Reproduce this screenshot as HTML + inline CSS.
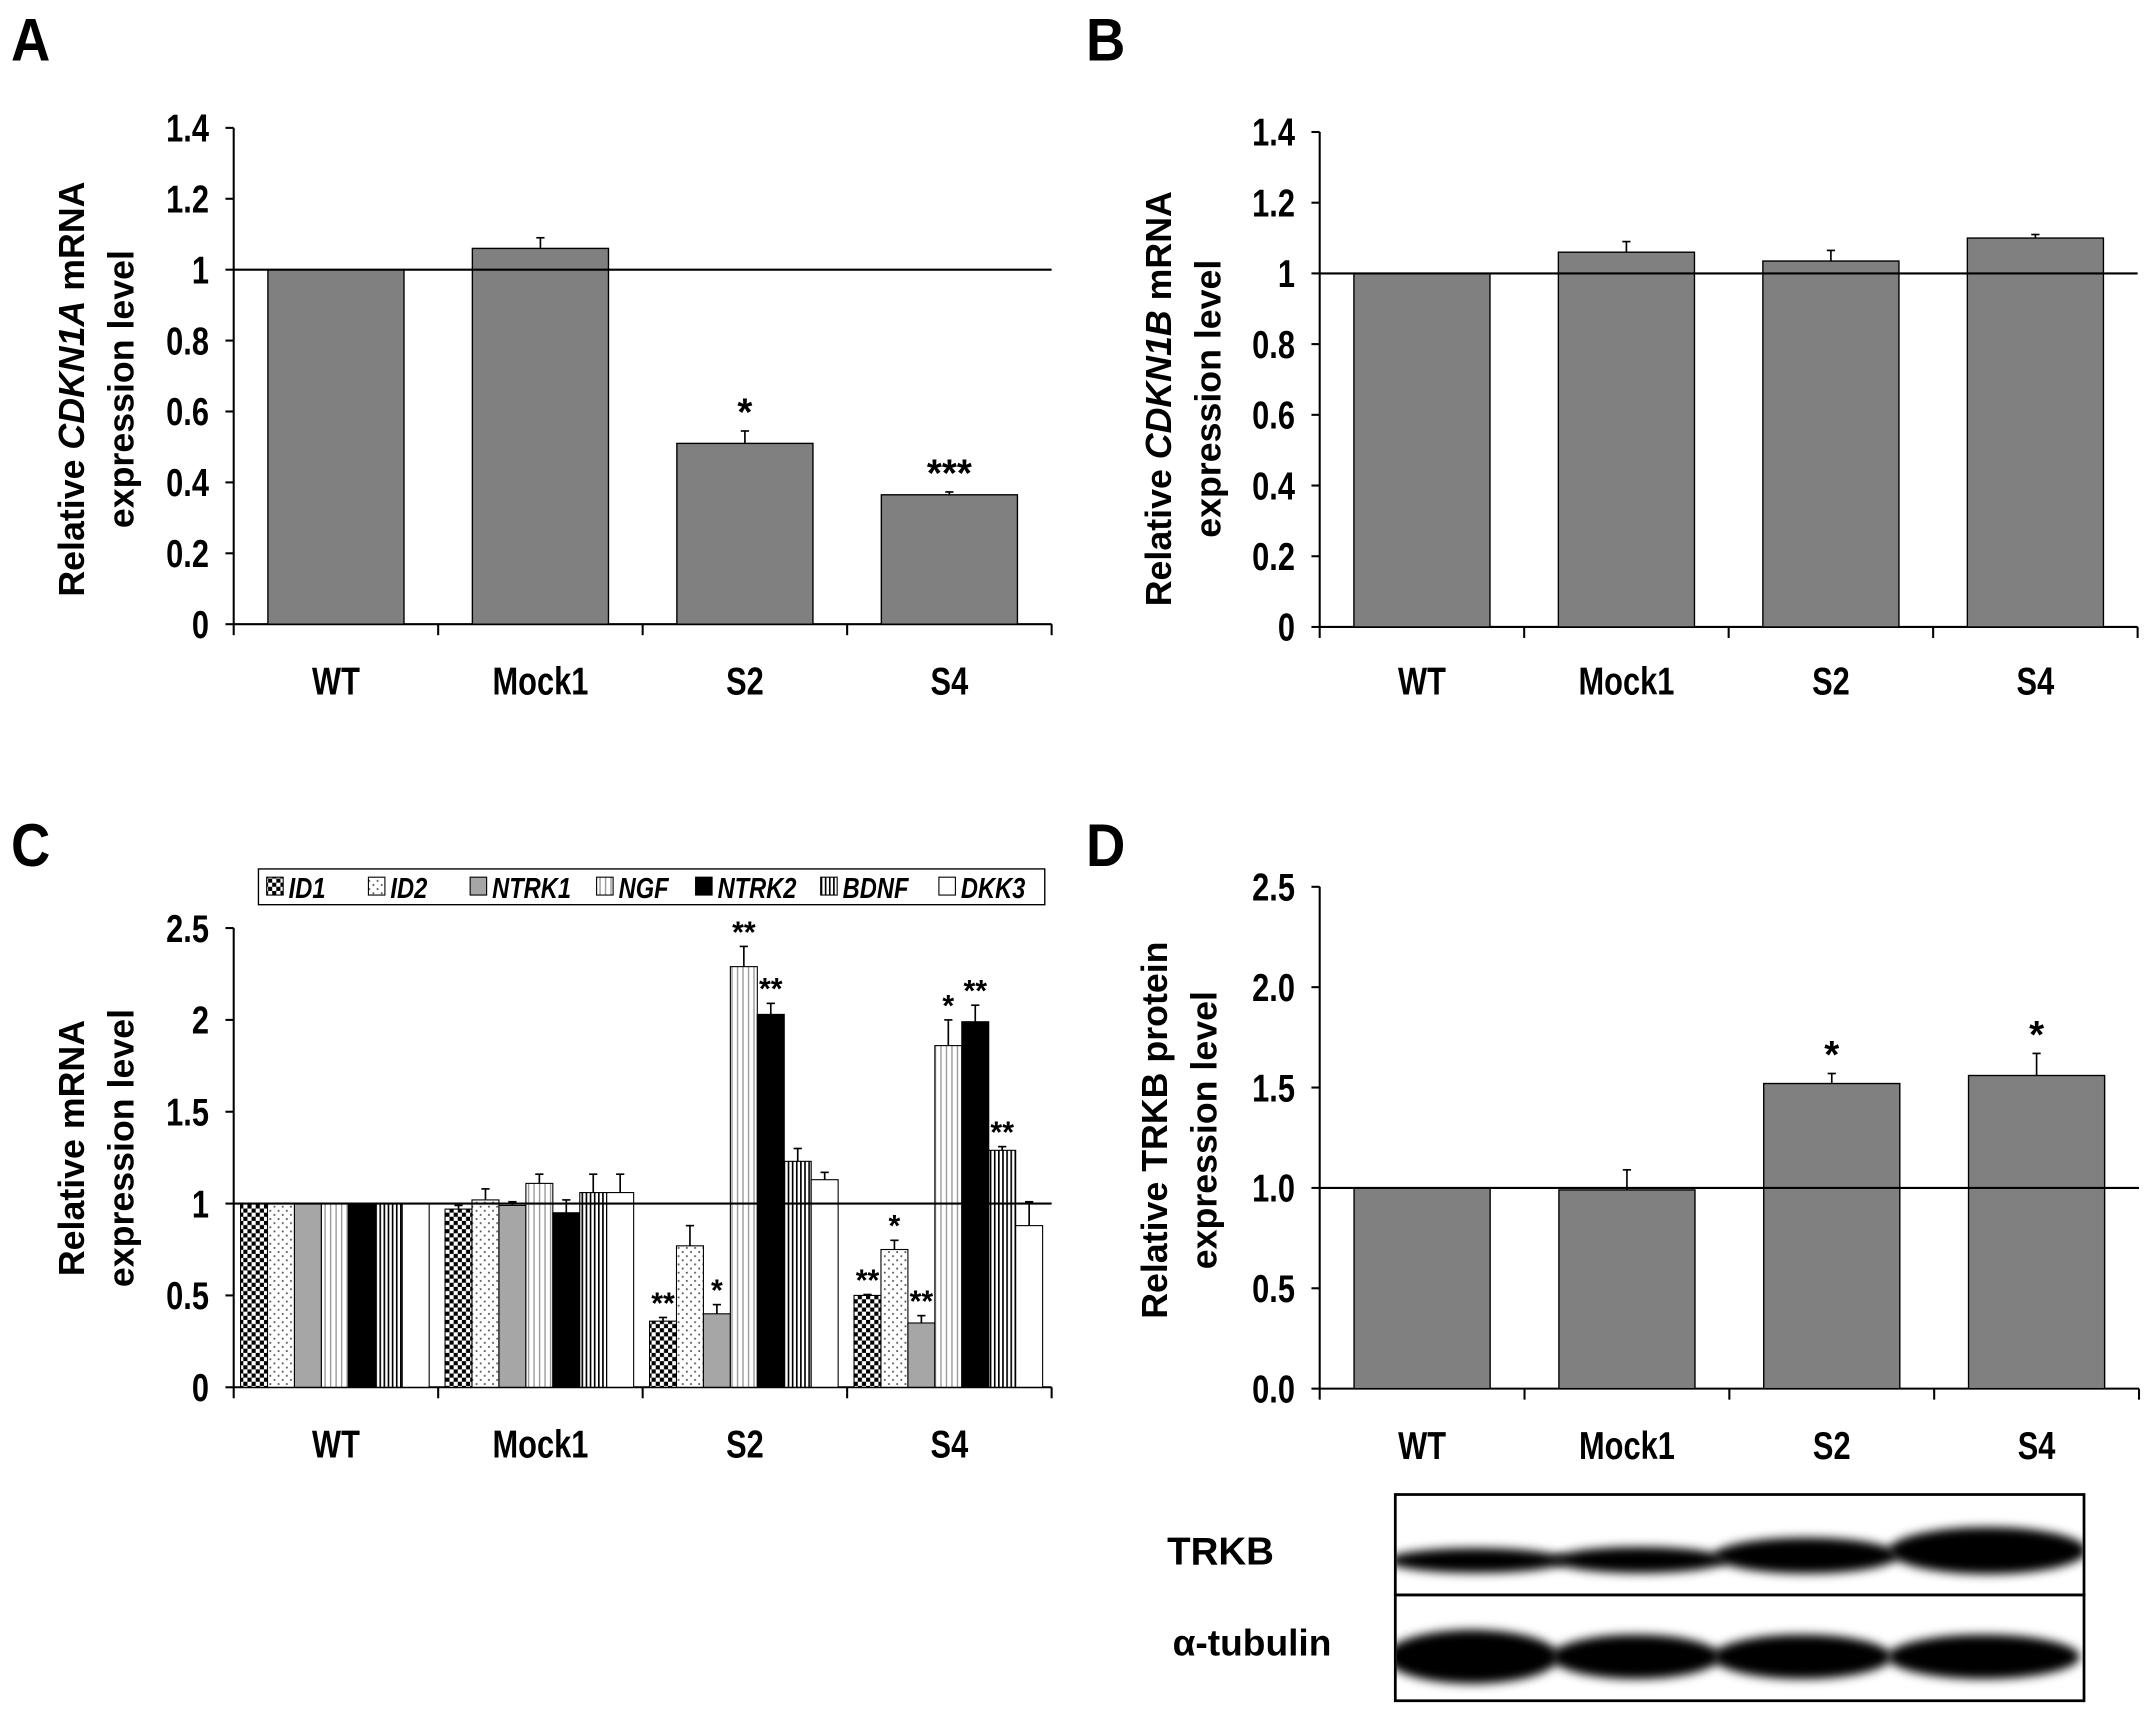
<!DOCTYPE html>
<html><head><meta charset="utf-8">
<style>
html,body{margin:0;padding:0;background:#fff;}
svg{display:block;}
text{font-family:"Liberation Sans",Arial,sans-serif;font-weight:bold;fill:#000;}
</style></head>
<body>
<svg id="fig" width="2150" height="1709" viewBox="0 0 1564 1243" preserveAspectRatio="none" xmlns="http://www.w3.org/2000/svg">
<defs>
<pattern id="p-checker" width="6" height="6" patternUnits="userSpaceOnUse"><rect width="6" height="6" fill="#fff"/><rect width="3" height="3" fill="#000"/><rect x="3" y="3" width="3" height="3" fill="#000"/></pattern>
<pattern id="p-dots" width="6" height="6" patternUnits="userSpaceOnUse"><rect width="6" height="6" fill="#fff"/><rect x="1" y="1" width="1.3" height="1.3" fill="#555"/><rect x="4" y="4" width="1.3" height="1.3" fill="#555"/></pattern>
<pattern id="p-vlight" width="4" height="4" patternUnits="userSpaceOnUse"><rect width="4" height="4" fill="#fff"/><rect x="0" width="1" height="4" fill="#999"/></pattern>
<pattern id="p-vdense" width="3" height="3" patternUnits="userSpaceOnUse"><rect width="3" height="3" fill="#fff"/><rect x="0" width="1.2" height="3" fill="#000"/></pattern>
<filter id="blur" x="-20%" y="-60%" width="140%" height="220%"><feGaussianBlur stdDeviation="3.5"/></filter>
<clipPath id="blot-top"><rect x="1016" y="1088" width="499" height="71"/></clipPath>
<clipPath id="blot-bot"><rect x="1016" y="1161" width="499" height="75"/></clipPath>
</defs>
</svg>
<script>
const categories = ["WT","Mock1","S2","S4"];
// Panel A
const aValues = [1.0, 1.06, 0.51, 0.365];
const aErrors = [0, 0.03, 0.035, 0.008];
const aStars = ["", "", "*", "***"];
const aTicks = ["0","0.2","0.4","0.6","0.8","1","1.2","1.4"];
// Panel B
const bValues = [1.0, 1.06, 1.035, 1.10];
const bErrors = [0, 0.03, 0.03, 0.01];
const bStars = ["", "", "", ""];
const bTicks = ["0","0.2","0.4","0.6","0.8","1","1.2","1.4"];
// Panel C
const cGenes = ["ID1","ID2","NTRK1","NGF","NTRK2","BDNF","DKK3"];
const cID1 = [1.0, 0.97, 0.36, 0.50];
const cID2 = [1.0, 1.02, 0.77, 0.75];
const cNTRK1 = [1.0, 0.99, 0.40, 0.35];
const cNGF = [1.0, 1.11, 2.29, 1.86];
const cNTRK2 = [1.0, 0.95, 2.03, 1.99];
const cBDNF = [1.0, 1.06, 1.23, 1.29];
const cDKK3 = [1.0, 1.06, 1.13, 0.88];
const cErrID1 = [0, 0.02, 0.02, 0.005];
const cErrID2 = [0, 0.06, 0.11, 0.05];
const cErrNTRK1 = [0, 0.02, 0.05, 0.04];
const cErrNGF = [0, 0.05, 0.11, 0.14];
const cErrNTRK2 = [0, 0.07, 0.06, 0.09];
const cErrBDNF = [0, 0.10, 0.07, 0.02];
const cErrDKK3 = [0, 0.10, 0.04, 0.13];
const cStarsID1 = ["","","**","**"];
const cStarsID2 = ["","","","*"];
const cStarsNTRK1 = ["","","*","**"];
const cStarsNGF = ["","","**","*"];
const cStarsNTRK2 = ["","","**","**"];
const cStarsBDNF = ["","","","**"];
const cStarsDKK3 = ["","","",""];
const cTicks = ["0","0.5","1","1.5","2","2.5"];
// Panel D
const dValues = [1.0, 0.99, 1.52, 1.56];
const dErrors = [0, 0.10, 0.05, 0.11];
const dStars = ["", "", "*", "*"];
const dTicks = ["0.0","0.5","1.0","1.5","2.0","2.5"];
// Western blot band intensities (relative)
const trkbBands = [1.0, 1.05, 1.45, 1.9];
const tubulinBands = [1.4, 1.15, 1.15, 1.15];

const NS = "http://www.w3.org/2000/svg";
const svg = document.getElementById("fig");
function el(tag, attrs, parent){ const e=document.createElementNS(NS,tag); for(const k in attrs) e.setAttribute(k,attrs[k]); (parent||svg).appendChild(e); return e; }
function txt(s, attrs, parent){ const t=el("text",attrs,parent); t.textContent=s; return t; }
// condensed text: scaled horizontally
function ctxt(s, x, y, size, anchor, parent, sx){
  sx = sx||0.8;
  const t = el("text",{x:0,y:0,"text-anchor":anchor||"start","font-size":size,transform:`translate(${x},${y}) scale(${sx},1)`},parent);
  t.textContent=s; return t;
}

function makeAxes(g, cfg){
  const y = v => cfg.y0 - (v/cfg.max)*(cfg.y0-cfg.yTop);
  const catW = (cfg.xRight-cfg.x0)/categories.length;
  const x = i => cfg.x0 + i*catW;
  const ya = el("line",{x1:cfg.x0,y1:cfg.yTop,x2:cfg.x0,y2:cfg.y0,stroke:"#000","stroke-width":1.5},g);
  
  
  cfg.ticks.forEach((t,i)=>{
    const v = i*cfg.max/(cfg.ticks.length-1);
    el("line",{x1:cfg.x0-6,y1:y(v),x2:cfg.x0,y2:y(v),stroke:"#000","stroke-width":1.5},g);
    const tl = ctxt(t,cfg.x0-18,y(v)+10,28,"end",g);
    
    
  });
  const xa = el("line",{x1:cfg.x0,y1:cfg.y0,x2:cfg.xRight,y2:cfg.y0,stroke:"#000","stroke-width":1.5},g);
  
  
  for(let i=0;i<=categories.length;i++) el("line",{x1:x(i),y1:cfg.y0,x2:x(i),y2:cfg.y0+8,stroke:"#000","stroke-width":1.5},g);
  categories.forEach((c,i)=>{
    const cl = ctxt(c,x(i)+catW/2,cfg.labelY+2,28,"middle",g);
    
    
  });
  return {y, x, catW};
}
function ylabel(g, lines, cx, cy, x1, x2){
  const t1 = txt("",{x:0,y:0,"text-anchor":"middle","font-size":26,transform:`translate(${x1},${cy}) rotate(-90)`},g);
  
  
  lines[0].forEach(p=>{ const s=el("tspan",{},t1); s.textContent=p[0]; if(p[1]) s.setAttribute("font-style","italic"); });
  const t2 = txt(lines[1],{x:0,y:0,"text-anchor":"middle","font-size":26,transform:`translate(${x2},${cy}) rotate(-90)`},g);
  
  
}
function refLine(g, cfg, ax){
  const l = el("line",{x1:cfg.x0,y1:ax.y(1),x2:cfg.xRight,y2:ax.y(1),stroke:"#000","stroke-width":1.5},g);
  
  
}
function errBar(g, cx, top, errTop){
  el("line",{x1:cx,y1:top,x2:cx,y2:errTop,stroke:"#000","stroke-width":1.2},g);
  el("line",{x1:cx-3,y1:errTop,x2:cx+3,y2:errTop,stroke:"#000","stroke-width":1.2},g);
}
function simpleChart(name, cfg, values, errors, stars){
  const g = el("g",{});
  
  
  const ax = makeAxes(g,cfg);
  values.forEach((v,i)=>{
    const bx = ax.x(i) + (ax.catW-99)/2;
    const r = el("rect",{x:bx,y:ax.y(v),width:99,height:ax.y(0)-ax.y(v),fill:"#808080",stroke:"#000","stroke-width":1},g);
    
    
    if(errors[i]>0) errBar(g, bx+49.5, ax.y(v), ax.y(v+errors[i]));
    if(stars[i]){
      const st = txt(stars[i],{x:bx+49.5,y:ax.y(v+errors[i])-4,"text-anchor":"middle","font-size":28},g);
      
      
    }
  });
  refLine(g,cfg,ax);
  return g;
}
function letter(s,x,y){ const t=ctxt(s,x,y,44,"start",svg,0.9);   }

// Panel A
const cfgA={x0:170,xRight:765,y0:454,yTop:93,max:1.4,ticks:aTicks,labelY:503};
const gA = simpleChart("panel-a-chart",cfgA,aValues,aErrors,aStars);
ylabel(gA,[[["Relative "],["CDKN1A",1],[" mRNA"]],"expression level"],0,283,61,97);
letter("A",8,44);
// Panel B
const cfgB={x0:960,xRight:1555,y0:456,yTop:96,max:1.4,ticks:bTicks,labelY:503};
const gB = simpleChart("panel-b-chart",cfgB,bValues,bErrors,bStars);
ylabel(gB,[[["Relative "],["CDKN1B",1],[" mRNA"]],"expression level"],0,290,852,888);
letter("B",790,44);
// Panel D
const cfgD={x0:960,xRight:1556,y0:1010,yTop:645,max:2.5,ticks:dTicks,labelY:1059};
const gD = simpleChart("panel-d-chart",cfgD,dValues,dErrors,dStars);
ylabel(gD,[[["Relative TRKB protein"]],"expression level"],0,822,849,885);
letter("D",790,630);

// Panel C
const cSeries=[cID1,cID2,cNTRK1,cNGF,cNTRK2,cBDNF,cDKK3];
const cErrs=[cErrID1,cErrID2,cErrNTRK1,cErrNGF,cErrNTRK2,cErrBDNF,cErrDKK3];
const cStars=[cStarsID1,cStarsID2,cStarsNTRK1,cStarsNGF,cStarsNTRK2,cStarsBDNF,cStarsDKK3];
const cFills=["url(#p-checker)","url(#p-dots)","#a6a6a6","url(#p-vlight)","#000","url(#p-vdense)","#fff"];
const cfgC={x0:170,xRight:765,y0:1009,yTop:675,max:2.5,ticks:cTicks,labelY:1058};
const gC = el("g",{});


const axC = makeAxes(gC,cfgC);
const bw=19.6;
cSeries.forEach((ser,s)=>{
  ser.forEach((v,i)=>{
    const bx = axC.x(i)+5+s*bw;
    const r = el("rect",{x:bx,y:axC.y(v),width:bw,height:axC.y(0)-axC.y(v),fill:cFills[s],stroke:"#000","stroke-width":0.8},gC);
    
    
    const e=cErrs[s][i];
    if(e>0) errBar(gC,bx+bw/2,axC.y(v),axC.y(v+e));
    if(cStars[s][i]){
      const st=txt(cStars[s][i],{x:bx+bw/2,y:axC.y(v+e)-3,"text-anchor":"middle","font-size":22},gC);
      
      
    }
  });
});
refLine(gC,cfgC,axC);
ylabel(gC,[[["Relative mRNA"]],"expression level"],0,835,61,97);
letter("C",8,630);
// legend
const lg = el("g",{});


el("rect",{x:188,y:632,width:572,height:26,fill:"#fff",stroke:"#000","stroke-width":1},lg);
const legX=[194,268,342,434,506,597,683];
cGenes.forEach((gname,s)=>{
  const le = el("g",{},lg);
  
  
  el("rect",{x:legX[s],y:638,width:12,height:13,fill:cFills[s],stroke:"#000","stroke-width":0.8},le);
  const t = ctxt(gname,legX[s]+16,653,21,"start",le,0.82);
  t.setAttribute("font-style","italic");
});

// Western blot
const wb = el("g",{});


const lanes=[1066,1185,1306,1438];
const laneW=[118,115,122,132];
const gt = el("g",{"clip-path":"url(#blot-top)"},wb);
trkbBands.forEach((v,i)=>{
  const b=el("ellipse",{cx:lanes[i]+8,cy:1135-(v-1)*8,rx:laneW[i]/2+6,ry:9*v,fill:"#000",filter:"url(#blur)"},gt);
  
  
});
const gb = el("g",{"clip-path":"url(#blot-bot)"},wb);
tubulinBands.forEach((v,i)=>{
  const b=el("ellipse",{cx:lanes[i]+5,cy:1205,rx:laneW[i]/2+4,ry:14*v,fill:"#000",filter:"url(#blur)"},gb);
  
  
});
el("rect",{x:1015,y:1087,width:501,height:73,fill:"none",stroke:"#000","stroke-width":2},wb);
el("rect",{x:1015,y:1160,width:501,height:77,fill:"none",stroke:"#000","stroke-width":2},wb);
const l1=txt("TRKB",{x:849,y:1138,"font-size":28},wb);


const l2=txt("α-tubulin",{x:853,y:1204,"font-size":27},wb);


</script>
</body></html>
